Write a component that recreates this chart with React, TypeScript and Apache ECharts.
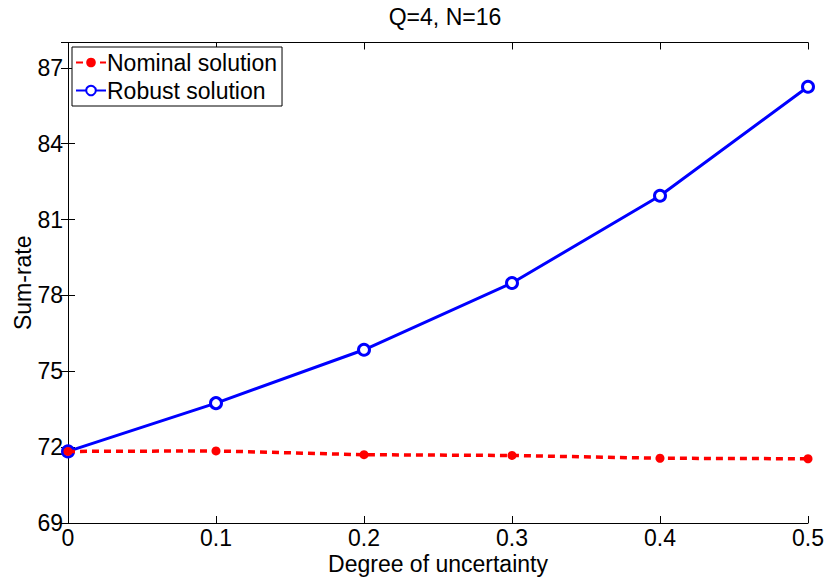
import React, { useEffect, useRef } from "react";
import * as echarts from "echarts";

const uncertainty = [0, 0.1, 0.2, 0.3, 0.4, 0.5];
const nominal = [71.83, 71.85, 71.7, 71.67, 71.56, 71.54];
const robust = [71.83, 73.74, 75.85, 78.49, 81.94, 86.25];
const seriesNames = ["Nominal solution", "Robust solution"];
const titleText = "Q=4, N=16";
const xName = "Degree of uncertainty";
const yName = "Sum-rate";

const FONT = "'Liberation Sans', Arial, Helvetica, sans-serif";
const FS = 23;

export default function App() {
  const ref = useRef<HTMLDivElement>(null);
  useEffect(() => {
    if (!ref.current) return;
    const chart = echarts.init(ref.current, null, { renderer: "svg" });
    const axisLine = { show: true, lineStyle: { color: "#000", width: 1 } };
    const tick = { show: true, inside: true, length: 7, lineStyle: { color: "#000", width: 1 } };
    chart.setOption({
      animation: false,
      backgroundColor: "#fff",
      title: {
        text: titleText,
        left: 440,
        textAlign: "center",
        top: 0,
        textStyle: { fontFamily: FONT, fontSize: 23, fontWeight: "normal", color: "#000" },
      },
      legend: {
        orient: "vertical",
        left: 72,
        top: 47,
        backgroundColor: "#fff",
        borderColor: "#000",
        borderWidth: 1,
        borderRadius: 0,
        padding: [4, 5, 4, 3],
        itemGap: 5,
        itemWidth: 30,
        itemHeight: 12,
        data: seriesNames,
        textStyle: { fontFamily: FONT, fontSize: FS, color: "#000", padding: [0, 0, 0, -4] },
      },
      grid: {
        left: 68,
        right: 21,
        top: 42.5,
        bottom: 57,
        containLabel: false,
        outerBoundsMode: "none",
      },
      xAxis: [
        {
          type: "value",
          min: 0,
          max: 0.5,
          interval: 0.1,
          name: xName,
          nameLocation: "middle",
          nameGap: 29,
          nameMoveOverlap: false,
          nameTextStyle: { fontFamily: FONT, fontSize: FS, color: "#000" },
          axisLine,
          axisTick: tick,
          splitLine: { show: false },
          axisLabel: {
            fontFamily: FONT,
            fontSize: FS,
            color: "#000",
            margin: 4,
            lineHeight: 22,
            formatter: (v: number) => String(Math.round(v * 10) / 10),
          },
        },
        {
          type: "value",
          position: "top",
          min: 0,
          max: 0.5,
          interval: 0.1,
          axisLine,
          axisTick: tick,
          axisLabel: { show: false },
          splitLine: { show: false },
        },
      ],
      yAxis: [
        {
          type: "value",
          min: 69,
          max: 88,
          interval: 3,
          name: yName,
          nameLocation: "middle",
          nameGap: 34,
          nameMoveOverlap: false,
          nameTextStyle: { fontFamily: FONT, fontSize: FS, color: "#000" },
          axisLine,
          axisTick: tick,
          splitLine: { show: false },
          axisLabel: {
            fontFamily: FONT,
            fontSize: FS,
            color: "#000",
            margin: 5,
            formatter: (v: number) => (v % 3 === 0 ? String(v) : ""),
          },
        },
        {
          type: "value",
          position: "right",
          min: 69,
          max: 88,
          interval: 3,
          axisLine,
          axisTick: tick,
          axisLabel: { show: false },
          splitLine: { show: false },
        },
      ],
      series: [
        {
          name: seriesNames[0],
          type: "line",
          data: uncertainty.map((x, i) => [x, nominal[i]]),
          symbol: "circle",
          symbolSize: 9,
          lineStyle: { color: "#ff0000", width: 3.5, type: [7, 5] },
          itemStyle: { color: "#ff0000" },
          z: 3,
        },
        {
          name: seriesNames[1],
          type: "line",
          data: uncertainty.map((x, i) => [x, robust[i]]),
          symbol: "circle",
          symbolSize: 11,
          lineStyle: { color: "#0000ff", width: 3 },
          itemStyle: { color: "#fff", borderColor: "#0000ff", borderWidth: 3 },
          z: 2,
        },
      ],
    });
    return () => chart.dispose();
  }, []);
  return <div ref={ref} style={{ width: 829, height: 580, position: "absolute", left: 0, top: 0 }} />;
}
